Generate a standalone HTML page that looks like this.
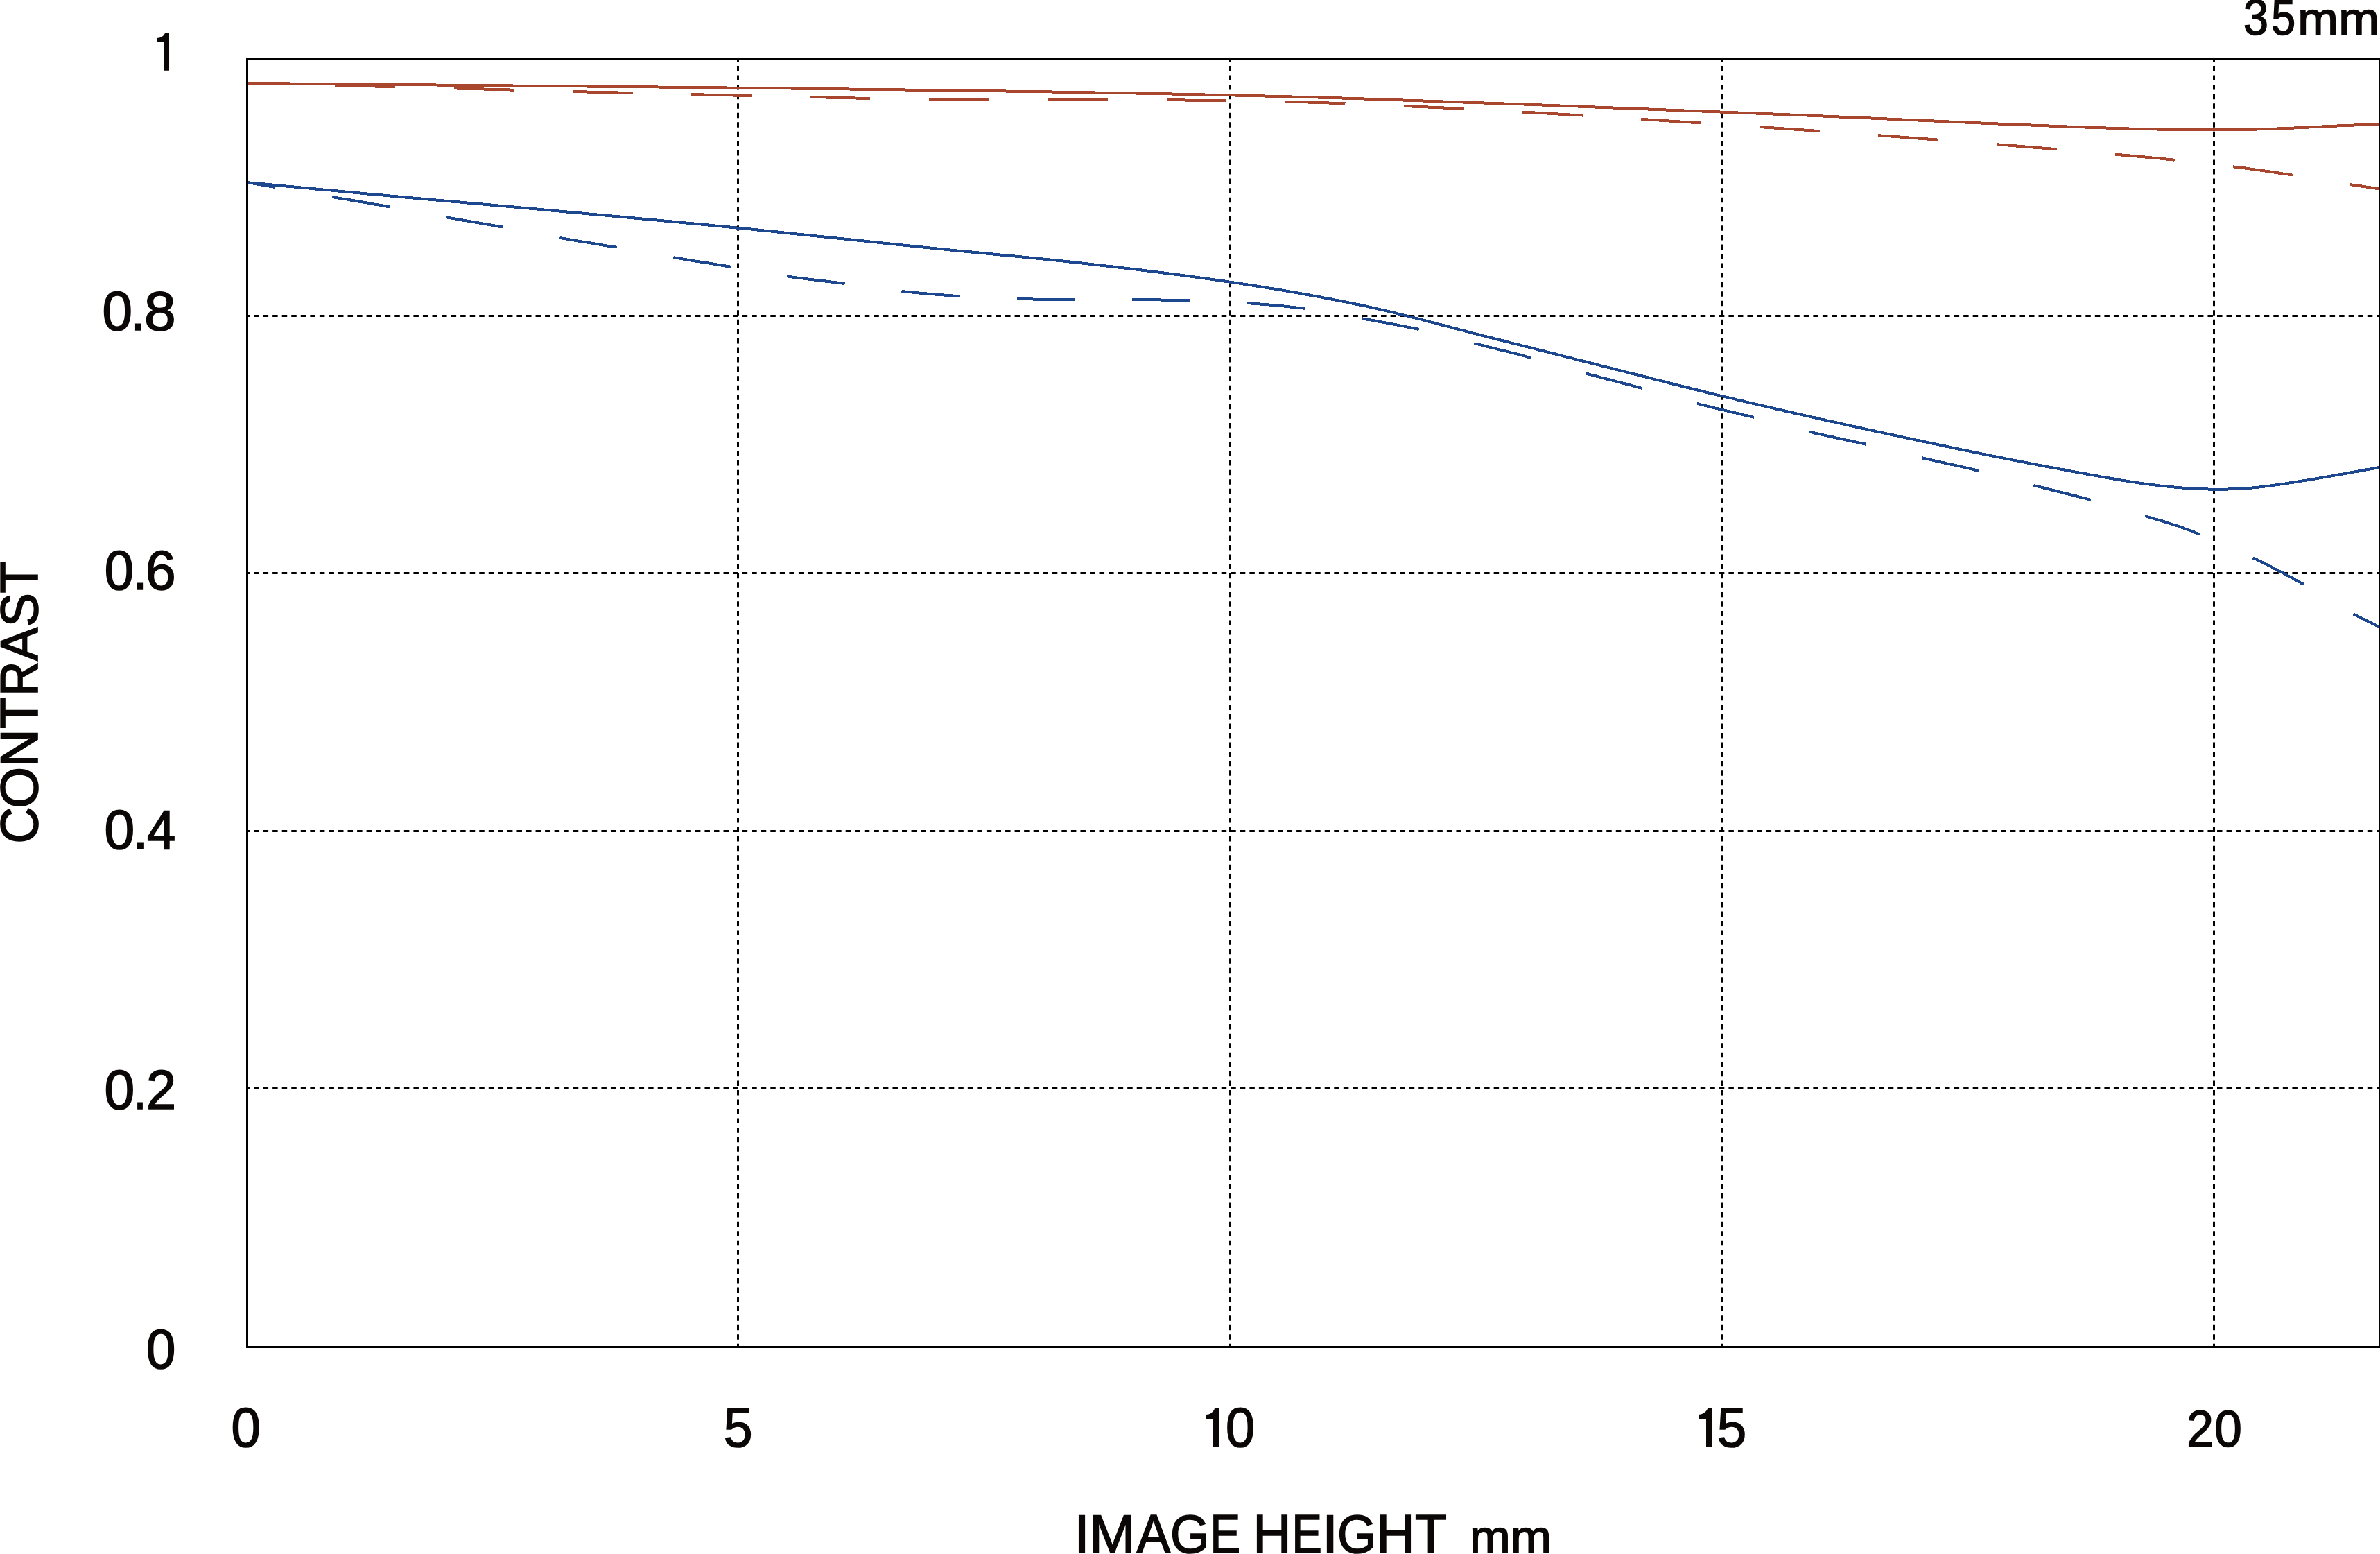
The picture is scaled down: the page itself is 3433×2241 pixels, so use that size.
<!DOCTYPE html><html><head><meta charset="utf-8"><style>html,body{margin:0;padding:0;background:#fff;overflow:hidden}svg{display:block}</style></head><body><svg width="3433" height="2241" viewBox="0 0 3433 2241"><rect x="0" y="0" width="3433" height="2241" fill="#fff"/><defs><clipPath id="pa"><rect x="355" y="83" width="3078" height="1861"/></clipPath></defs><g clip-path="url(#pa)"><path d="M1064.5 86V1941M1774.5 86V1941M2483.5 86V1941M3193.5 86V1941" stroke="#000" stroke-width="3" stroke-dasharray="7.5 6.05" stroke-dashoffset="4.55" fill="none"/><path d="M352.5 455.5H3431M352.5 826.5H3431M352.5 1198.5H3431M352.5 1569.5H3431" stroke="#000" stroke-width="3" stroke-dasharray="7.5 6.05" fill="none"/><g fill="none" stroke-linecap="butt" stroke-linejoin="round" stroke-width="4.0" shape-rendering="crispEdges"><path d="M357.0 120.00L361.0 120.03L365.0 120.06L369.0 120.09L373.0 120.13L377.0 120.16L381.0 120.19L385.0 120.22L389.0 120.26L393.0 120.29L397.0 120.32L401.0 120.36L405.0 120.39L409.0 120.43L413.0 120.46L417.0 120.49L421.0 120.53L425.0 120.57L429.0 120.60L433.0 120.64L437.0 120.68L441.0 120.71L445.0 120.75L449.0 120.79L453.0 120.83L457.0 120.86L461.0 120.90L465.0 120.94L469.0 120.98L473.0 121.02L477.0 121.06L481.0 121.10L485.0 121.14L489.0 121.17L493.0 121.21L497.0 121.25L501.0 121.29L505.0 121.33L509.0 121.37L512.9 121.41L516.9 121.45L520.9 121.48L524.9 121.52L528.9 121.56L532.9 121.60L536.9 121.63L540.9 121.67L544.9 121.71L548.9 121.75L552.9 121.79L556.9 121.82L560.9 121.86L564.9 121.90L568.9 121.94L572.9 121.98L576.9 122.01L580.9 122.05L584.9 122.09L588.9 122.13L592.9 122.16L596.9 122.20L600.9 122.24L604.9 122.28L608.9 122.31L612.9 122.35L616.9 122.39L620.9 122.43L624.9 122.46L628.9 122.50L632.9 122.54L636.9 122.57L640.9 122.61L644.9 122.65L648.9 122.68L652.9 122.72L656.9 122.76L660.9 122.79L664.9 122.83L668.9 122.87L672.9 122.90L676.9 122.94L680.9 122.97L684.9 123.01L688.9 123.05L692.9 123.08L696.9 123.12L700.9 123.16L704.9 123.19L708.9 123.23L712.9 123.26L716.9 123.30L720.9 123.34L724.9 123.37L728.9 123.41L732.9 123.45L736.9 123.48L740.9 123.52L744.9 123.56L748.9 123.59L752.9 123.63L756.9 123.67L760.9 123.71L764.9 123.74L768.9 123.78L772.9 123.82L776.9 123.85L780.9 123.89L784.9 123.93L788.9 123.96L792.9 124.00L796.9 124.04L800.9 124.08L804.9 124.11L808.9 124.15L812.9 124.19L816.9 124.22L820.8 124.26L824.8 124.30L828.8 124.34L832.8 124.38L836.8 124.41L840.8 124.45L844.8 124.49L848.8 124.53L852.8 124.57L856.8 124.60L860.8 124.64L864.8 124.68L868.8 124.72L872.8 124.76L876.8 124.80L880.8 124.83L884.8 124.87L888.8 124.91L892.8 124.95L896.8 124.99L900.8 125.03L904.8 125.07L908.8 125.11L912.8 125.14L916.8 125.18L920.8 125.22L924.8 125.26L928.8 125.30L932.8 125.34L936.8 125.38L940.8 125.42L944.8 125.46L948.8 125.50L952.8 125.54L956.8 125.58L960.8 125.62L964.8 125.66L968.8 125.70L972.8 125.73L976.8 125.77L980.8 125.81L984.8 125.85L988.8 125.89L992.8 125.93L996.8 125.97L1000.8 126.01L1004.8 126.05L1008.8 126.09L1012.8 126.13L1016.8 126.17L1020.8 126.21L1024.8 126.26L1028.8 126.30L1032.8 126.34L1036.8 126.38L1040.8 126.42L1044.8 126.46L1048.8 126.50L1052.8 126.54L1056.8 126.59L1060.8 126.63L1064.8 126.67L1068.8 126.71L1072.8 126.76L1076.8 126.80L1080.8 126.84L1084.8 126.89L1088.8 126.93L1092.8 126.97L1096.8 127.02L1100.8 127.06L1104.8 127.11L1108.8 127.15L1112.8 127.19L1116.8 127.24L1120.8 127.28L1124.8 127.33L1128.7 127.37L1132.7 127.42L1136.7 127.46L1140.7 127.51L1144.7 127.55L1148.7 127.60L1152.7 127.65L1156.7 127.69L1160.7 127.74L1164.7 127.78L1168.7 127.83L1172.7 127.88L1176.7 127.92L1180.7 127.97L1184.7 128.02L1188.7 128.06L1192.7 128.11L1196.7 128.16L1200.7 128.21L1204.7 128.25L1208.7 128.30L1212.7 128.35L1216.7 128.40L1220.7 128.45L1224.7 128.50L1228.7 128.55L1232.7 128.59L1236.7 128.64L1240.7 128.69L1244.7 128.74L1248.7 128.79L1252.7 128.84L1256.7 128.89L1260.7 128.95L1264.7 129.00L1268.7 129.05L1272.7 129.10L1276.7 129.15L1280.7 129.20L1284.7 129.25L1288.7 129.31L1292.7 129.36L1296.7 129.41L1300.7 129.46L1304.7 129.51L1308.7 129.57L1312.7 129.62L1316.7 129.67L1320.7 129.73L1324.7 129.78L1328.7 129.83L1332.7 129.89L1336.7 129.94L1340.7 130.00L1344.7 130.05L1348.7 130.11L1352.7 130.16L1356.7 130.21L1360.7 130.27L1364.7 130.32L1368.7 130.38L1372.7 130.43L1376.7 130.49L1380.7 130.54L1384.7 130.60L1388.7 130.65L1392.7 130.71L1396.7 130.76L1400.7 130.82L1404.7 130.87L1408.7 130.93L1412.7 130.98L1416.7 131.03L1420.7 131.09L1424.7 131.15L1428.7 131.20L1432.7 131.26L1436.6 131.31L1440.6 131.37L1444.6 131.43L1448.6 131.48L1452.6 131.54L1456.6 131.60L1460.6 131.66L1464.6 131.72L1468.6 131.78L1472.6 131.83L1476.6 131.89L1480.6 131.95L1484.6 132.01L1488.6 132.07L1492.6 132.13L1496.6 132.20L1500.6 132.26L1504.6 132.32L1508.6 132.38L1512.6 132.44L1516.6 132.50L1520.6 132.56L1524.6 132.63L1528.6 132.69L1532.6 132.75L1536.6 132.81L1540.6 132.88L1544.6 132.94L1548.6 133.00L1552.6 133.06L1556.6 133.13L1560.6 133.19L1564.6 133.26L1568.6 133.32L1572.6 133.39L1576.6 133.45L1580.6 133.52L1584.6 133.58L1588.6 133.65L1592.6 133.72L1596.6 133.78L1600.6 133.85L1604.6 133.92L1608.6 133.99L1612.6 134.06L1616.6 134.12L1620.6 134.19L1624.6 134.26L1628.6 134.33L1632.6 134.41L1636.6 134.48L1640.6 134.55L1644.6 134.62L1648.6 134.70L1652.6 134.77L1656.6 134.85L1660.6 134.93L1664.6 135.00L1668.6 135.08L1672.6 135.16L1676.6 135.24L1680.6 135.32L1684.6 135.40L1688.6 135.48L1692.6 135.56L1696.6 135.64L1700.6 135.72L1704.6 135.80L1708.6 135.89L1712.6 135.97L1716.6 136.05L1720.6 136.14L1724.6 136.22L1728.6 136.31L1732.6 136.39L1736.6 136.48L1740.6 136.57L1744.5 136.65L1748.5 136.74L1752.5 136.83L1756.5 136.92L1760.5 137.01L1764.5 137.10L1768.5 137.19L1772.5 137.28L1776.5 137.37L1780.5 137.47L1784.5 137.56L1788.5 137.65L1792.5 137.75L1796.5 137.85L1800.5 137.94L1804.5 138.04L1808.5 138.14L1812.5 138.24L1816.5 138.34L1820.5 138.43L1824.5 138.53L1828.5 138.63L1832.5 138.73L1836.5 138.83L1840.5 138.92L1844.5 139.02L1848.5 139.12L1852.5 139.22L1856.5 139.32L1860.5 139.42L1864.5 139.53L1868.5 139.63L1872.5 139.74L1876.5 139.84L1880.5 139.95L1884.5 140.06L1888.5 140.17L1892.5 140.28L1896.5 140.39L1900.5 140.50L1904.5 140.61L1908.5 140.72L1912.5 140.83L1916.5 140.94L1920.5 141.06L1924.5 141.17L1928.5 141.29L1932.5 141.41L1936.5 141.53L1940.5 141.65L1944.5 141.78L1948.5 141.91L1952.5 142.04L1956.5 142.17L1960.5 142.30L1964.5 142.43L1968.5 142.57L1972.5 142.70L1976.5 142.84L1980.5 142.98L1984.5 143.12L1988.5 143.26L1992.5 143.40L1996.5 143.54L2000.5 143.68L2004.5 143.82L2008.5 143.96L2012.5 144.11L2016.5 144.25L2020.5 144.39L2024.5 144.54L2028.5 144.68L2032.5 144.82L2036.5 144.96L2040.5 145.11L2044.5 145.25L2048.4 145.39L2052.4 145.53L2056.4 145.67L2060.4 145.81L2064.4 145.95L2068.4 146.08L2072.4 146.22L2076.4 146.36L2080.4 146.49L2084.4 146.63L2088.4 146.76L2092.4 146.90L2096.4 147.03L2100.4 147.16L2104.4 147.30L2108.4 147.43L2112.4 147.56L2116.4 147.70L2120.4 147.83L2124.4 147.96L2128.4 148.10L2132.4 148.23L2136.4 148.37L2140.4 148.50L2144.4 148.64L2148.4 148.77L2152.4 148.91L2156.4 149.04L2160.4 149.18L2164.4 149.32L2168.4 149.46L2172.4 149.60L2176.4 149.74L2180.4 149.88L2184.4 150.02L2188.4 150.17L2192.4 150.31L2196.4 150.46L2200.4 150.60L2204.4 150.75L2208.4 150.91L2212.4 151.06L2216.4 151.22L2220.4 151.38L2224.4 151.53L2228.4 151.68L2232.4 151.84L2236.4 151.99L2240.4 152.15L2244.4 152.30L2248.4 152.46L2252.4 152.61L2256.4 152.76L2260.4 152.92L2264.4 153.07L2268.4 153.22L2272.4 153.38L2276.4 153.53L2280.4 153.69L2284.4 153.85L2288.4 154.01L2292.4 154.17L2296.4 154.34L2300.4 154.49L2304.4 154.65L2308.4 154.81L2312.4 154.97L2316.4 155.13L2320.4 155.28L2324.4 155.44L2328.4 155.60L2332.4 155.75L2336.4 155.91L2340.4 156.07L2344.4 156.22L2348.4 156.38L2352.4 156.53L2356.3 156.69L2360.3 156.84L2364.3 157.00L2368.3 157.15L2372.3 157.31L2376.3 157.46L2380.3 157.62L2384.3 157.77L2388.3 157.93L2392.3 158.08L2396.3 158.24L2400.3 158.39L2404.3 158.55L2408.3 158.70L2412.3 158.86L2416.3 159.01L2420.3 159.17L2424.3 159.32L2428.3 159.48L2432.3 159.63L2436.3 159.78L2440.3 159.94L2444.3 160.09L2448.3 160.24L2452.3 160.40L2456.3 160.55L2460.3 160.70L2464.3 160.86L2468.3 161.01L2472.3 161.16L2476.3 161.32L2480.3 161.47L2484.3 161.62L2488.3 161.78L2492.3 161.93L2496.3 162.08L2500.3 162.24L2504.3 162.39L2508.3 162.55L2512.3 162.70L2516.3 162.86L2520.3 163.02L2524.3 163.17L2528.3 163.33L2532.3 163.49L2536.3 163.65L2540.3 163.81L2544.3 163.97L2548.3 164.13L2552.3 164.29L2556.3 164.45L2560.3 164.61L2564.3 164.78L2568.3 164.95L2572.3 165.11L2576.3 165.28L2580.3 165.45L2584.3 165.62L2588.3 165.78L2592.3 165.95L2596.3 166.12L2600.3 166.29L2604.3 166.45L2608.3 166.62L2612.3 166.79L2616.3 166.95L2620.3 167.12L2624.3 167.28L2628.3 167.45L2632.3 167.62L2636.3 167.79L2640.3 167.96L2644.3 168.13L2648.3 168.31L2652.3 168.48L2656.3 168.65L2660.3 168.82L2664.2 169.00L2668.2 169.17L2672.2 169.35L2676.2 169.52L2680.2 169.70L2684.2 169.87L2688.2 170.05L2692.2 170.22L2696.2 170.40L2700.2 170.57L2704.2 170.75L2708.2 170.92L2712.2 171.10L2716.2 171.27L2720.2 171.45L2724.2 171.62L2728.2 171.80L2732.2 171.97L2736.2 172.15L2740.2 172.32L2744.2 172.50L2748.2 172.68L2752.2 172.85L2756.2 173.03L2760.2 173.20L2764.2 173.38L2768.2 173.56L2772.2 173.74L2776.2 173.91L2780.2 174.09L2784.2 174.27L2788.2 174.45L2792.2 174.63L2796.2 174.81L2800.2 174.99L2804.2 175.17L2808.2 175.35L2812.2 175.53L2816.2 175.70L2820.2 175.88L2824.2 176.05L2828.2 176.23L2832.2 176.40L2836.2 176.57L2840.2 176.74L2844.2 176.91L2848.2 177.08L2852.2 177.25L2856.2 177.41L2860.2 177.58L2864.2 177.76L2868.2 177.93L2872.2 178.11L2876.2 178.28L2880.2 178.45L2884.2 178.62L2888.2 178.78L2892.2 178.95L2896.2 179.11L2900.2 179.27L2904.2 179.44L2908.2 179.60L2912.2 179.76L2916.2 179.93L2920.2 180.09L2924.2 180.25L2928.2 180.42L2932.2 180.59L2936.2 180.75L2940.2 180.92L2944.2 181.08L2948.2 181.24L2952.2 181.40L2956.2 181.56L2960.2 181.71L2964.2 181.86L2968.2 182.01L2972.1 182.16L2976.1 182.31L2980.1 182.46L2984.1 182.61L2988.1 182.76L2992.1 182.90L2996.1 183.05L3000.1 183.20L3004.1 183.35L3008.1 183.49L3012.1 183.63L3016.1 183.77L3020.1 183.91L3024.1 184.05L3028.1 184.19L3032.1 184.32L3036.1 184.46L3040.1 184.58L3044.1 184.71L3048.1 184.84L3052.1 184.96L3056.1 185.08L3060.1 185.20L3064.1 185.32L3068.1 185.43L3072.1 185.54L3076.1 185.66L3080.1 185.77L3084.1 185.88L3088.1 185.99L3092.1 186.10L3096.1 186.20L3100.1 186.30L3104.1 186.38L3108.1 186.46L3112.1 186.53L3116.1 186.59L3120.1 186.65L3124.1 186.71L3128.1 186.77L3132.1 186.83L3136.1 186.89L3140.1 186.94L3144.1 187.00L3148.1 187.04L3152.1 187.09L3156.1 187.13L3160.1 187.16L3164.1 187.19L3168.1 187.22L3172.1 187.24L3176.1 187.25L3180.1 187.25L3184.1 187.25L3188.1 187.24L3192.1 187.23L3196.1 187.21L3200.1 187.18L3204.1 187.16L3208.1 187.12L3212.1 187.09L3216.1 187.05L3220.1 187.01L3224.1 186.96L3228.1 186.91L3232.1 186.86L3236.1 186.80L3240.1 186.74L3244.1 186.68L3248.1 186.62L3252.1 186.56L3256.1 186.49L3260.1 186.41L3264.1 186.29L3268.1 186.16L3272.1 186.02L3276.1 185.87L3280.0 185.71L3284.0 185.55L3288.0 185.40L3292.0 185.25L3296.0 185.08L3300.0 184.91L3304.0 184.74L3308.0 184.57L3312.0 184.38L3316.0 184.20L3320.0 184.00L3324.0 183.81L3328.0 183.61L3332.0 183.41L3336.0 183.22L3340.0 183.02L3344.0 182.82L3348.0 182.62L3352.0 182.42L3356.0 182.22L3360.0 182.03L3364.0 181.83L3368.0 181.64L3372.0 181.46L3376.0 181.29L3380.0 181.12L3384.0 180.96L3388.0 180.80L3392.0 180.64L3396.0 180.49L3400.0 180.35L3404.0 180.21L3408.0 180.07L3412.0 179.94L3416.0 179.81L3420.0 179.68L3424.0 179.55L3428.0 179.41L3432.0 179.28" stroke="#A8472E"/><path d="M357.0 120.00L360.0 120.05L363.0 120.10L365.9 120.16L368.9 120.22L371.9 120.29L374.9 120.35L377.9 120.42L380.8 120.49L383.8 120.57L386.8 120.65L389.8 120.74L392.7 120.83L395.7 120.92L398.7 121.00M483.2 123.07L486.2 123.14L489.2 123.21L492.1 123.28L495.1 123.36L498.1 123.43L501.1 123.50L504.1 123.58L507.1 123.65L510.0 123.72L513.0 123.80L516.0 123.87L519.0 123.95L522.0 124.02L525.0 124.10L527.9 124.17L530.9 124.25L533.9 124.32L536.9 124.40L539.9 124.47L542.9 124.55L545.8 124.62L548.8 124.70L551.8 124.77L554.8 124.85L557.8 124.93L560.8 125.00L563.7 125.08L566.7 125.15L569.7 125.23M655.1 127.43L658.1 127.50L661.0 127.58L664.0 127.65L666.9 127.73L669.9 127.80L672.9 127.88L675.8 127.95L678.8 128.03L681.7 128.10L684.7 128.17L687.6 128.25L690.6 128.32L693.6 128.40L696.5 128.47L699.5 128.55L702.4 128.63L705.4 128.70L708.4 128.78L711.3 128.85L714.3 128.93L717.2 129.00L720.2 129.08L723.1 129.16L726.1 129.23L729.1 129.31L732.0 129.39L735.0 129.47L737.9 129.54L740.9 129.62M826.3 132.00L829.3 132.07L832.3 132.15L835.2 132.22L838.2 132.29L841.2 132.36L844.2 132.44L847.1 132.51L850.1 132.57L853.1 132.64L856.1 132.71L859.0 132.78L862.0 132.85L865.0 132.92L868.0 132.98L870.9 133.05L873.9 133.12L876.9 133.18L879.9 133.25L882.8 133.32L885.8 133.38L888.8 133.45L891.8 133.52L894.7 133.59L897.7 133.65L900.7 133.72L903.7 133.79L906.6 133.86L909.6 133.93L912.6 134.00M997.2 136.06L1000.2 136.14L1003.2 136.21L1006.1 136.28L1009.1 136.35L1012.1 136.43L1015.1 136.50L1018.1 136.57L1021.1 136.64L1024.0 136.71L1027.0 136.78L1030.0 136.86L1033.0 136.93L1036.0 137.00L1039.0 137.07L1041.9 137.14L1044.9 137.21L1047.9 137.28L1050.9 137.35L1053.9 137.42L1056.9 137.49L1059.8 137.56L1062.8 137.63L1065.8 137.70L1068.8 137.76L1071.8 137.83L1074.8 137.90L1077.7 137.97L1080.7 138.04L1083.7 138.10M1169.1 140.00L1172.1 140.07L1175.0 140.13L1178.0 140.20L1180.9 140.27L1183.9 140.34L1186.8 140.41L1189.8 140.48L1192.7 140.55L1195.7 140.62L1198.7 140.69L1201.6 140.76L1204.6 140.83L1207.5 140.90L1210.5 140.97L1213.4 141.04L1216.4 141.11L1219.3 141.18L1222.3 141.24L1225.2 141.31L1228.2 141.37L1231.2 141.44L1234.1 141.50L1237.1 141.56L1240.0 141.62L1243.0 141.68L1245.9 141.74L1248.9 141.79L1251.8 141.85L1254.8 141.90M1340.0 143.24L1343.0 143.27L1346.0 143.30L1349.0 143.33L1351.9 143.36L1354.9 143.39L1357.9 143.41L1360.9 143.44L1363.9 143.46L1366.9 143.48L1369.9 143.49L1372.8 143.51L1375.8 143.52L1378.8 143.53L1381.8 143.55L1384.8 143.56L1387.8 143.57L1390.8 143.58L1393.8 143.60L1396.7 143.61L1399.7 143.62L1402.7 143.63L1405.7 143.64L1408.7 143.65L1411.7 143.66L1414.7 143.67L1417.6 143.68L1420.6 143.69L1423.6 143.69L1426.6 143.70M1511.2 143.89L1514.2 143.90L1517.2 143.90L1520.2 143.91L1523.2 143.92L1526.1 143.92L1529.1 143.93L1532.1 143.94L1535.1 143.95L1538.1 143.95L1541.1 143.96L1544.1 143.97L1547.1 143.98L1550.1 143.99L1553.1 143.99L1556.0 144.00L1559.0 144.01L1562.0 144.02L1565.0 144.03L1568.0 144.04L1571.0 144.05L1574.0 144.05L1577.0 144.06L1580.0 144.07L1583.0 144.08L1585.9 144.09L1588.9 144.09L1591.9 144.10L1594.9 144.11L1597.9 144.12M1683.2 144.38L1686.1 144.39L1689.1 144.41L1692.0 144.42L1695.0 144.43L1697.9 144.45L1700.9 144.46L1703.8 144.48L1706.8 144.49L1709.7 144.51L1712.6 144.52L1715.6 144.54L1718.5 144.56L1721.5 144.59L1724.4 144.61L1727.4 144.64L1730.3 144.66L1733.3 144.69L1736.2 144.72L1739.2 144.75L1742.1 144.78L1745.0 144.81L1748.0 144.85L1750.9 144.88L1753.9 144.92L1756.8 144.95L1759.8 144.99L1762.7 145.02L1765.7 145.06L1768.6 145.10M1854.3 146.72L1857.3 146.79L1860.2 146.86L1863.2 146.94L1866.2 147.01L1869.2 147.08L1872.1 147.16L1875.1 147.23L1878.1 147.31L1881.1 147.39L1884.0 147.46L1887.0 147.54L1890.0 147.63L1892.9 147.71L1895.9 147.80L1898.9 147.90L1901.9 148.00L1904.8 148.10L1907.8 148.20L1910.8 148.30L1913.7 148.41L1916.7 148.51L1919.7 148.62L1922.7 148.73L1925.6 148.83L1928.6 148.95L1931.6 149.06L1934.6 149.17L1937.5 149.29L1940.5 149.40M2025.2 153.00L2028.2 153.13L2031.2 153.26L2034.2 153.39L2037.2 153.52L2040.2 153.64L2043.2 153.77L2046.2 153.90L2049.1 154.03L2052.1 154.16L2055.1 154.29L2058.1 154.42L2061.1 154.55L2064.1 154.68L2067.1 154.82L2070.1 154.95L2073.1 155.08L2076.1 155.22L2079.1 155.35L2082.1 155.49L2085.1 155.62L2088.1 155.76L2091.0 155.90L2094.0 156.04L2097.0 156.18L2100.0 156.32L2103.0 156.46L2106.0 156.61L2109.0 156.75L2112.0 156.90M2196.3 161.53L2199.3 161.70L2202.3 161.87L2205.3 162.04L2208.2 162.21L2211.2 162.37L2214.2 162.54L2217.2 162.70L2220.2 162.87L2223.2 163.03L2226.2 163.20L2229.1 163.37L2232.1 163.54L2235.1 163.72L2238.1 163.90L2241.1 164.08L2244.1 164.26L2247.1 164.44L2250.1 164.62L2253.0 164.81L2256.0 164.99L2259.0 165.17L2262.0 165.36L2265.0 165.53L2268.0 165.71L2271.0 165.88L2273.9 166.05L2276.9 166.23L2279.9 166.40L2282.9 166.58M2367.4 171.92L2370.4 172.11L2373.3 172.29L2376.3 172.48L2379.3 172.67L2382.2 172.85L2385.2 173.03L2388.2 173.22L2391.2 173.41L2394.1 173.60L2397.1 173.80L2400.1 174.00L2403.0 174.20L2406.0 174.40L2409.0 174.59L2411.9 174.78L2414.9 174.97L2417.9 175.15L2420.8 175.34L2423.8 175.53L2426.8 175.72L2429.7 175.91L2432.7 176.11L2435.7 176.31L2438.7 176.50L2441.6 176.70L2444.6 176.90L2447.6 177.09L2450.5 177.29L2453.5 177.49M2538.4 183.14L2541.4 183.34L2544.4 183.54L2547.3 183.74L2550.3 183.94L2553.3 184.15L2556.3 184.35L2559.3 184.55L2562.3 184.76L2565.2 184.97L2568.2 185.19L2571.2 185.40L2574.2 185.60L2577.2 185.80L2580.2 186.00L2583.1 186.20L2586.1 186.41L2589.1 186.61L2592.1 186.82L2595.1 187.03L2598.1 187.25L2601.0 187.45L2604.0 187.66L2607.0 187.86L2610.0 188.06L2613.0 188.26L2616.0 188.46L2618.9 188.67L2621.9 188.88L2624.9 189.09M2709.0 195.20L2712.0 195.42L2715.0 195.64L2717.9 195.86L2720.9 196.08L2723.9 196.30L2726.9 196.52L2729.9 196.74L2732.9 196.96L2735.8 197.18L2738.8 197.41L2741.8 197.63L2744.8 197.85L2747.8 198.07L2750.8 198.30L2753.7 198.52L2756.7 198.74L2759.7 198.96L2762.7 199.19L2765.7 199.41L2768.7 199.63L2771.6 199.85L2774.6 200.08L2777.6 200.30L2780.6 200.52L2783.6 200.74L2786.6 200.96L2789.5 201.19L2792.5 201.41L2795.5 201.64M2880.4 208.25L2883.4 208.49L2886.4 208.73L2889.3 208.97L2892.3 209.20L2895.3 209.44L2898.3 209.68L2901.3 209.92L2904.3 210.16L2907.2 210.40L2910.2 210.64L2913.2 210.88L2916.2 211.12L2919.2 211.36L2922.2 211.60L2925.1 211.85L2928.1 212.09L2931.1 212.33L2934.1 212.58L2937.1 212.82L2940.1 213.07L2943.0 213.31L2946.0 213.56L2949.0 213.80L2952.0 214.05L2955.0 214.30L2958.0 214.55L2960.9 214.80L2963.9 215.05L2966.9 215.30M3051.3 222.68L3054.2 222.95L3057.2 223.21L3060.1 223.47L3063.1 223.73L3066.0 223.99L3069.0 224.25L3071.9 224.52L3074.9 224.79L3077.8 225.06L3080.7 225.33L3083.7 225.60L3086.6 225.86L3089.6 226.12L3092.5 226.39L3095.5 226.67L3098.4 226.98L3101.4 227.28L3104.3 227.57L3107.3 227.83L3110.2 228.09L3113.1 228.35L3116.1 228.63L3119.0 228.93L3122.0 229.23L3124.9 229.53L3127.9 229.82L3130.8 230.11L3133.8 230.40L3136.7 230.71M3221.2 240.30L3224.1 240.67L3227.1 241.04L3230.0 241.40L3233.0 241.78L3235.9 242.17L3238.9 242.56L3241.8 242.97L3244.8 243.37L3247.7 243.78L3250.7 244.20L3253.6 244.63L3256.6 245.05L3259.5 245.48L3262.5 245.90L3265.4 246.32L3268.4 246.74L3271.3 247.16L3274.3 247.60L3277.2 248.05L3280.2 248.50L3283.1 248.96L3286.1 249.42L3289.0 249.87L3292.0 250.32L3294.9 250.76L3297.9 251.21L3300.8 251.67L3303.8 252.13L3306.7 252.60M3390.2 266.12L3393.2 266.57L3396.2 267.01L3399.2 267.44L3402.1 267.86L3405.1 268.29L3408.1 268.76L3411.1 269.25L3414.1 269.71L3417.1 270.13L3420.1 270.55L3423.0 270.99L3426.0 271.42L3429.0 271.84L3432.0 272.26" stroke="#A8472E"/><path d="M357.0 263.10L361.0 263.48L365.0 263.87L369.0 264.26L373.0 264.64L377.0 265.03L381.0 265.41L385.0 265.80L389.0 266.18L393.0 266.56L397.0 266.95L401.0 267.33L405.0 267.71L409.0 268.10L413.0 268.48L417.0 268.86L421.0 269.24L425.0 269.62L429.0 270.00L433.0 270.38L437.0 270.76L441.0 271.14L445.0 271.52L449.0 271.90L453.0 272.28L457.0 272.66L461.0 273.03L465.0 273.41L469.0 273.79L473.0 274.16L477.0 274.54L481.0 274.92L485.0 275.29L489.0 275.67L493.0 276.04L497.0 276.42L501.0 276.79L505.0 277.16L509.0 277.54L512.9 277.91L516.9 278.28L520.9 278.65L524.9 279.03L528.9 279.40L532.9 279.77L536.9 280.14L540.9 280.51L544.9 280.88L548.9 281.25L552.9 281.62L556.9 281.99L560.9 282.35L564.9 282.72L568.9 283.09L572.9 283.45L576.9 283.82L580.9 284.18L584.9 284.54L588.9 284.91L592.9 285.27L596.9 285.63L600.9 285.99L604.9 286.35L608.9 286.71L612.9 287.07L616.9 287.43L620.9 287.79L624.9 288.14L628.9 288.50L632.9 288.86L636.9 289.22L640.9 289.57L644.9 289.93L648.9 290.28L652.9 290.64L656.9 291.00L660.9 291.35L664.9 291.71L668.9 292.07L672.9 292.42L676.9 292.78L680.9 293.13L684.9 293.49L688.9 293.85L692.9 294.20L696.9 294.56L700.9 294.92L704.9 295.28L708.9 295.64L712.9 296.00L716.9 296.35L720.9 296.71L724.9 297.07L728.9 297.44L732.9 297.80L736.9 298.16L740.9 298.52L744.9 298.88L748.9 299.25L752.9 299.61L756.9 299.98L760.9 300.35L764.9 300.71L768.9 301.08L772.9 301.44L776.9 301.81L780.9 302.17L784.9 302.54L788.9 302.90L792.9 303.27L796.9 303.63L800.9 304.00L804.9 304.36L808.9 304.73L812.9 305.09L816.9 305.46L820.8 305.82L824.8 306.19L828.8 306.55L832.8 306.92L836.8 307.28L840.8 307.65L844.8 308.01L848.8 308.38L852.8 308.75L856.8 309.11L860.8 309.48L864.8 309.84L868.8 310.21L872.8 310.58L876.8 310.95L880.8 311.31L884.8 311.68L888.8 312.05L892.8 312.42L896.8 312.78L900.8 313.15L904.8 313.52L908.8 313.89L912.8 314.26L916.8 314.63L920.8 315.00L924.8 315.37L928.8 315.75L932.8 316.12L936.8 316.49L940.8 316.86L944.8 317.24L948.8 317.61L952.8 317.98L956.8 318.36L960.8 318.73L964.8 319.11L968.8 319.49L972.8 319.86L976.8 320.24L980.8 320.62L984.8 321.00L988.8 321.38L992.8 321.76L996.8 322.14L1000.8 322.52L1004.8 322.90L1008.8 323.29L1012.8 323.67L1016.8 324.05L1020.8 324.44L1024.8 324.82L1028.8 325.21L1032.8 325.60L1036.8 325.99L1040.8 326.37L1044.8 326.76L1048.8 327.16L1052.8 327.55L1056.8 327.94L1060.8 328.33L1064.8 328.73L1068.8 329.12L1072.8 329.52L1076.8 329.92L1080.8 330.32L1084.8 330.73L1088.8 331.14L1092.8 331.54L1096.8 331.95L1100.8 332.36L1104.8 332.78L1108.8 333.19L1112.8 333.60L1116.8 334.02L1120.8 334.43L1124.8 334.85L1128.7 335.27L1132.7 335.68L1136.7 336.10L1140.7 336.52L1144.7 336.93L1148.7 337.35L1152.7 337.76L1156.7 338.18L1160.7 338.59L1164.7 339.01L1168.7 339.42L1172.7 339.84L1176.7 340.25L1180.7 340.67L1184.7 341.09L1188.7 341.51L1192.7 341.93L1196.7 342.35L1200.7 342.76L1204.7 343.18L1208.7 343.60L1212.7 344.02L1216.7 344.45L1220.7 344.87L1224.7 345.29L1228.7 345.71L1232.7 346.13L1236.7 346.55L1240.7 346.97L1244.7 347.39L1248.7 347.81L1252.7 348.24L1256.7 348.66L1260.7 349.08L1264.7 349.50L1268.7 349.92L1272.7 350.34L1276.7 350.76L1280.7 351.18L1284.7 351.60L1288.7 352.02L1292.7 352.44L1296.7 352.86L1300.7 353.28L1304.7 353.69L1308.7 354.11L1312.7 354.53L1316.7 354.94L1320.7 355.36L1324.7 355.77L1328.7 356.19L1332.7 356.60L1336.7 357.02L1340.7 357.43L1344.7 357.84L1348.7 358.25L1352.7 358.66L1356.7 359.07L1360.7 359.48L1364.7 359.88L1368.7 360.28L1372.7 360.68L1376.7 361.08L1380.7 361.48L1384.7 361.87L1388.7 362.27L1392.7 362.66L1396.7 363.05L1400.7 363.44L1404.7 363.82L1408.7 364.21L1412.7 364.60L1416.7 364.98L1420.7 365.37L1424.7 365.75L1428.7 366.14L1432.7 366.52L1436.6 366.90L1440.6 367.29L1444.6 367.67L1448.6 368.06L1452.6 368.44L1456.6 368.83L1460.6 369.21L1464.6 369.60L1468.6 369.99L1472.6 370.38L1476.6 370.77L1480.6 371.16L1484.6 371.56L1488.6 371.95L1492.6 372.35L1496.6 372.75L1500.6 373.15L1504.6 373.56L1508.6 373.96L1512.6 374.37L1516.6 374.78L1520.6 375.20L1524.6 375.61L1528.6 376.03L1532.6 376.46L1536.6 376.88L1540.6 377.31L1544.6 377.75L1548.6 378.18L1552.6 378.62L1556.6 379.07L1560.6 379.51L1564.6 379.96L1568.6 380.41L1572.6 380.86L1576.6 381.32L1580.6 381.77L1584.6 382.23L1588.6 382.68L1592.6 383.14L1596.6 383.60L1600.6 384.07L1604.6 384.53L1608.6 385.00L1612.6 385.47L1616.6 385.94L1620.6 386.41L1624.6 386.88L1628.6 387.36L1632.6 387.84L1636.6 388.32L1640.6 388.80L1644.6 389.29L1648.6 389.78L1652.6 390.27L1656.6 390.76L1660.6 391.26L1664.6 391.76L1668.6 392.26L1672.6 392.76L1676.6 393.27L1680.6 393.78L1684.6 394.29L1688.6 394.80L1692.6 395.32L1696.6 395.84L1700.6 396.37L1704.6 396.89L1708.6 397.42L1712.6 397.96L1716.6 398.50L1720.6 399.04L1724.6 399.58L1728.6 400.13L1732.6 400.68L1736.6 401.23L1740.6 401.79L1744.5 402.35L1748.5 402.91L1752.5 403.48L1756.5 404.06L1760.5 404.63L1764.5 405.21L1768.5 405.80L1772.5 406.38L1776.5 406.98L1780.5 407.57L1784.5 408.17L1788.5 408.78L1792.5 409.39L1796.5 410.01L1800.5 410.63L1804.5 411.25L1808.5 411.88L1812.5 412.51L1816.5 413.15L1820.5 413.80L1824.5 414.45L1828.5 415.10L1832.5 415.76L1836.5 416.42L1840.5 417.09L1844.5 417.76L1848.5 418.44L1852.5 419.12L1856.5 419.81L1860.5 420.51L1864.5 421.20L1868.5 421.91L1872.5 422.61L1876.5 423.33L1880.5 424.05L1884.5 424.77L1888.5 425.50L1892.5 426.23L1896.5 426.97L1900.5 427.72L1904.5 428.47L1908.5 429.22L1912.5 429.98L1916.5 430.75L1920.5 431.52L1924.5 432.29L1928.5 433.08L1932.5 433.86L1936.5 434.65L1940.5 435.45L1944.5 436.26L1948.5 437.06L1952.5 437.88L1956.5 438.70L1960.5 439.53L1964.5 440.37L1968.5 441.23L1972.5 442.10L1976.5 442.98L1980.5 443.87L1984.5 444.77L1988.5 445.69L1992.5 446.61L1996.5 447.54L2000.5 448.49L2004.5 449.44L2008.5 450.40L2012.5 451.37L2016.5 452.35L2020.5 453.33L2024.5 454.33L2028.5 455.32L2032.5 456.33L2036.5 457.34L2040.5 458.36L2044.5 459.38L2048.4 460.41L2052.4 461.44L2056.4 462.47L2060.4 463.51L2064.4 464.56L2068.4 465.60L2072.4 466.65L2076.4 467.70L2080.4 468.75L2084.4 469.80L2088.4 470.85L2092.4 471.91L2096.4 472.96L2100.4 474.01L2104.4 475.07L2108.4 476.12L2112.4 477.17L2116.4 478.22L2120.4 479.26L2124.4 480.31L2128.4 481.35L2132.4 482.38L2136.4 483.41L2140.4 484.44L2144.4 485.47L2148.4 486.48L2152.4 487.50L2156.4 488.50L2160.4 489.51L2164.4 490.52L2168.4 491.52L2172.4 492.53L2176.4 493.54L2180.4 494.55L2184.4 495.56L2188.4 496.57L2192.4 497.58L2196.4 498.59L2200.4 499.60L2204.4 500.62L2208.4 501.63L2212.4 502.65L2216.4 503.66L2220.4 504.68L2224.4 505.69L2228.4 506.71L2232.4 507.72L2236.4 508.74L2240.4 509.76L2244.4 510.77L2248.4 511.79L2252.4 512.81L2256.4 513.82L2260.4 514.84L2264.4 515.86L2268.4 516.88L2272.4 517.89L2276.4 518.91L2280.4 519.93L2284.4 520.95L2288.4 521.96L2292.4 522.98L2296.4 524.00L2300.4 525.01L2304.4 526.03L2308.4 527.04L2312.4 528.06L2316.4 529.07L2320.4 530.09L2324.4 531.10L2328.4 532.11L2332.4 533.13L2336.4 534.14L2340.4 535.15L2344.4 536.16L2348.4 537.17L2352.4 538.18L2356.3 539.19L2360.3 540.20L2364.3 541.21L2368.3 542.22L2372.3 543.24L2376.3 544.25L2380.3 545.27L2384.3 546.29L2388.3 547.31L2392.3 548.33L2396.3 549.35L2400.3 550.36L2404.3 551.38L2408.3 552.40L2412.3 553.42L2416.3 554.43L2420.3 555.45L2424.3 556.46L2428.3 557.47L2432.3 558.48L2436.3 559.49L2440.3 560.49L2444.3 561.49L2448.3 562.49L2452.3 563.48L2456.3 564.48L2460.3 565.46L2464.3 566.45L2468.3 567.42L2472.3 568.40L2476.3 569.37L2480.3 570.33L2484.3 571.29L2488.3 572.25L2492.3 573.21L2496.3 574.16L2500.3 575.11L2504.3 576.06L2508.3 577.01L2512.3 577.96L2516.3 578.90L2520.3 579.85L2524.3 580.79L2528.3 581.73L2532.3 582.67L2536.3 583.61L2540.3 584.54L2544.3 585.48L2548.3 586.41L2552.3 587.34L2556.3 588.27L2560.3 589.20L2564.3 590.13L2568.3 591.05L2572.3 591.98L2576.3 592.90L2580.3 593.82L2584.3 594.74L2588.3 595.66L2592.3 596.57L2596.3 597.49L2600.3 598.40L2604.3 599.31L2608.3 600.22L2612.3 601.13L2616.3 602.04L2620.3 602.94L2624.3 603.85L2628.3 604.75L2632.3 605.65L2636.3 606.55L2640.3 607.45L2644.3 608.35L2648.3 609.24L2652.3 610.13L2656.3 611.03L2660.3 611.92L2664.2 612.81L2668.2 613.69L2672.2 614.58L2676.2 615.46L2680.2 616.35L2684.2 617.23L2688.2 618.11L2692.2 618.99L2696.2 619.86L2700.2 620.74L2704.2 621.61L2708.2 622.49L2712.2 623.36L2716.2 624.23L2720.2 625.10L2724.2 625.96L2728.2 626.83L2732.2 627.69L2736.2 628.56L2740.2 629.42L2744.2 630.28L2748.2 631.13L2752.2 631.99L2756.2 632.85L2760.2 633.70L2764.2 634.56L2768.2 635.41L2772.2 636.26L2776.2 637.11L2780.2 637.97L2784.2 638.82L2788.2 639.67L2792.2 640.51L2796.2 641.36L2800.2 642.21L2804.2 643.05L2808.2 643.90L2812.2 644.74L2816.2 645.58L2820.2 646.42L2824.2 647.26L2828.2 648.10L2832.2 648.93L2836.2 649.76L2840.2 650.59L2844.2 651.42L2848.2 652.25L2852.2 653.07L2856.2 653.90L2860.2 654.72L2864.2 655.54L2868.2 656.35L2872.2 657.16L2876.2 657.97L2880.2 658.78L2884.2 659.59L2888.2 660.39L2892.2 661.19L2896.2 661.99L2900.2 662.78L2904.2 663.57L2908.2 664.36L2912.2 665.14L2916.2 665.92L2920.2 666.70L2924.2 667.47L2928.2 668.24L2932.2 669.01L2936.2 669.77L2940.2 670.53L2944.2 671.29L2948.2 672.04L2952.2 672.79L2956.2 673.53L2960.2 674.27L2964.2 675.02L2968.2 675.77L2972.1 676.52L2976.1 677.27L2980.1 678.02L2984.1 678.77L2988.1 679.53L2992.1 680.28L2996.1 681.03L3000.1 681.78L3004.1 682.52L3008.1 683.27L3012.1 684.01L3016.1 684.75L3020.1 685.48L3024.1 686.21L3028.1 686.93L3032.1 687.65L3036.1 688.36L3040.1 689.07L3044.1 689.77L3048.1 690.46L3052.1 691.14L3056.1 691.82L3060.1 692.48L3064.1 693.14L3068.1 693.78L3072.1 694.42L3076.1 695.04L3080.1 695.65L3084.1 696.25L3088.1 696.84L3092.1 697.41L3096.1 697.97L3100.1 698.52L3104.1 699.05L3108.1 699.56L3112.1 700.05L3116.1 700.51L3120.1 700.94L3124.1 701.35L3128.1 701.75L3132.1 702.14L3136.1 702.52L3140.1 702.89L3144.1 703.23L3148.1 703.55L3152.1 703.84L3156.1 704.12L3160.1 704.37L3164.1 704.57L3168.1 704.77L3172.1 704.96L3176.1 705.15L3180.1 705.32L3184.1 705.48L3188.1 705.61L3192.1 705.71L3196.1 705.78L3200.1 705.80L3204.1 705.77L3208.1 705.69L3212.1 705.57L3216.1 705.42L3220.1 705.23L3224.1 705.03L3228.1 704.82L3232.1 704.60L3236.1 704.38L3240.1 704.12L3244.1 703.82L3248.1 703.49L3252.1 703.12L3256.1 702.74L3260.1 702.32L3264.1 701.84L3268.1 701.31L3272.1 700.76L3276.1 700.23L3280.0 699.71L3284.0 699.18L3288.0 698.64L3292.0 698.06L3296.0 697.47L3300.0 696.86L3304.0 696.24L3308.0 695.60L3312.0 694.96L3316.0 694.31L3320.0 693.65L3324.0 692.99L3328.0 692.33L3332.0 691.66L3336.0 690.99L3340.0 690.32L3344.0 689.64L3348.0 688.95L3352.0 688.26L3356.0 687.56L3360.0 686.86L3364.0 686.16L3368.0 685.45L3372.0 684.74L3376.0 684.04L3380.0 683.33L3384.0 682.62L3388.0 681.91L3392.0 681.20L3396.0 680.49L3400.0 679.78L3404.0 679.06L3408.0 678.34L3412.0 677.62L3416.0 676.90L3420.0 676.18L3424.0 675.45L3428.0 674.73L3432.0 674.00" stroke="#1D4890"/><path d="M356.0 263.00L359.0 263.51L361.9 264.01L364.9 264.52L367.9 265.03L370.8 265.53L373.8 266.04L376.8 266.54L379.7 267.05L382.7 267.56L385.6 268.06L388.6 268.57L391.6 269.07L394.5 269.58L397.5 270.09M479.2 284.00L482.2 284.51L485.1 285.01L488.1 285.52L491.0 286.02L494.0 286.53L496.9 287.03L499.9 287.54L502.8 288.05L505.8 288.55L508.7 289.06L511.7 289.56L514.6 290.07L517.6 290.58L520.5 291.08L523.5 291.59L526.5 292.10L529.4 292.61L532.4 293.12L535.3 293.63L538.3 294.15L541.2 294.66L544.2 295.18L547.1 295.69L550.1 296.21L553.0 296.73L556.0 297.25L558.9 297.78L561.9 298.30M643.1 313.20L646.1 313.73L649.0 314.25L652.0 314.78L654.9 315.30L657.9 315.82L660.8 316.33L663.8 316.85L666.7 317.36L669.7 317.87L672.6 318.39L675.6 318.90L678.5 319.41L681.5 319.92L684.5 320.43L687.4 320.94L690.4 321.45L693.3 321.96L696.3 322.48L699.2 322.99L702.2 323.50L705.1 324.02L708.1 324.54L711.0 325.06L714.0 325.58L716.9 326.11L719.9 326.64L722.8 327.17L725.8 327.70M807.3 343.00L810.2 343.52L813.2 344.03L816.1 344.54L819.1 345.05L822.0 345.55L824.9 346.05L827.9 346.54L830.8 347.03L833.8 347.52L836.7 348.01L839.6 348.50L842.6 348.98L845.5 349.47L848.5 349.95L851.4 350.43L854.3 350.92L857.3 351.40L860.2 351.88L863.1 352.36L866.1 352.85L869.0 353.33L872.0 353.82L874.9 354.31L877.8 354.80L880.8 355.30L883.7 355.79L886.7 356.30L889.6 356.80M971.5 371.30L974.5 371.80L977.4 372.30L980.4 372.79L983.3 373.28L986.3 373.77L989.2 374.26L992.2 374.74L995.2 375.23L998.1 375.71L1001.1 376.19L1004.0 376.66L1007.0 377.14L1009.9 377.62L1012.9 378.09L1015.9 378.57L1018.8 379.04L1021.8 379.52L1024.7 379.99L1027.7 380.47L1030.6 380.94L1033.6 381.42L1036.6 381.90L1039.5 382.38L1042.5 382.86L1045.4 383.34L1048.4 383.82L1051.3 384.31L1054.3 384.80M1135.0 398.40L1138.0 398.83L1141.0 399.25L1143.9 399.66L1146.9 400.07L1149.9 400.47L1152.9 400.86L1155.9 401.25L1158.9 401.63L1161.8 402.01L1164.8 402.38L1167.8 402.75L1170.8 403.12L1173.8 403.49L1176.8 403.85L1179.7 404.21L1182.7 404.57L1185.7 404.93L1188.7 405.29L1191.7 405.65L1194.6 406.02L1197.6 406.38L1200.6 406.74L1203.6 407.11L1206.6 407.48L1209.6 407.85L1212.5 408.23L1215.5 408.61L1218.5 409.00M1300.5 420.00L1303.4 420.30L1306.3 420.60L1309.2 420.89L1312.1 421.18L1315.0 421.47L1317.9 421.75L1320.8 422.03L1323.7 422.30L1326.6 422.58L1329.5 422.85L1332.4 423.11L1335.3 423.37L1338.2 423.63L1341.1 423.88L1344.0 424.13L1346.9 424.37L1349.8 424.61L1352.7 424.85L1355.6 425.08L1358.5 425.30L1361.4 425.52L1364.3 425.74L1367.2 425.95L1370.1 426.15L1373.0 426.35L1375.9 426.55L1378.8 426.74L1381.7 426.92L1384.6 427.10M1467.3 431.00L1470.3 431.07L1473.2 431.14L1476.2 431.21L1479.2 431.28L1482.2 431.35L1485.1 431.41L1488.1 431.48L1491.1 431.54L1494.1 431.61L1497.0 431.67L1500.0 431.73L1503.0 431.79L1506.0 431.84L1508.9 431.89L1511.9 431.95L1514.9 431.99L1517.9 432.04L1520.8 432.08L1523.8 432.12L1526.8 432.16L1529.8 432.19L1532.8 432.22L1535.7 432.24L1538.7 432.26L1541.7 432.28L1544.6 432.29L1547.6 432.30L1550.6 432.30M1633.3 432.20L1636.3 432.20L1639.3 432.21L1642.3 432.22L1645.3 432.23L1648.2 432.25L1651.2 432.27L1654.2 432.29L1657.2 432.32L1660.2 432.35L1663.2 432.38L1666.2 432.41L1669.2 432.45L1672.2 432.49L1675.2 432.53L1678.1 432.58L1681.1 432.63L1684.1 432.67L1687.1 432.72L1690.1 432.78L1693.1 432.83L1696.1 432.89L1699.1 432.94L1702.1 433.00L1705.0 433.06L1708.0 433.12L1711.0 433.18L1714.0 433.24L1717.0 433.30M1799.4 437.20L1802.4 437.39L1805.4 437.59L1808.3 437.79L1811.3 438.00L1814.3 438.22L1817.3 438.45L1820.3 438.68L1823.3 438.92L1826.2 439.16L1829.2 439.41L1832.2 439.67L1835.2 439.94L1838.2 440.21L1841.2 440.48L1844.1 440.77L1847.1 441.06L1850.1 441.35L1853.1 441.66L1856.1 441.96L1859.0 442.28L1862.0 442.60L1865.0 442.92L1868.0 443.25L1871.0 443.59L1874.0 443.94L1876.9 444.28L1879.9 444.64L1882.9 445.00M1964.4 459.20L1967.3 459.74L1970.3 460.27L1973.2 460.81L1976.2 461.34L1979.1 461.87L1982.1 462.41L1985.0 462.94L1987.9 463.48L1990.9 464.02L1993.8 464.55L1996.8 465.10L1999.7 465.64L2002.7 466.19L2005.6 466.74L2008.5 467.29L2011.5 467.85L2014.4 468.41L2017.4 468.98L2020.3 469.55L2023.3 470.13L2026.2 470.71L2029.1 471.30L2032.1 471.90L2035.0 472.50L2038.0 473.12L2040.9 473.74L2043.9 474.36L2046.8 475.00M2126.6 495.10L2129.5 495.84L2132.4 496.57L2135.4 497.31L2138.3 498.04L2141.2 498.77L2144.1 499.50L2147.1 500.23L2150.0 500.96L2152.9 501.69L2155.8 502.42L2158.7 503.15L2161.7 503.88L2164.6 504.61L2167.5 505.34L2170.4 506.07L2173.3 506.81L2176.3 507.55L2179.2 508.29L2182.1 509.03L2185.0 509.78L2187.9 510.53L2190.9 511.28L2193.8 512.04L2196.7 512.80L2199.6 513.57L2202.6 514.34L2205.5 515.12L2208.4 515.90M2287.4 538.40L2290.3 539.19L2293.2 539.98L2296.1 540.77L2299.0 541.54L2301.9 542.32L2304.8 543.09L2307.7 543.86L2310.6 544.63L2313.5 545.39L2316.4 546.15L2319.3 546.91L2322.2 547.67L2325.1 548.43L2328.0 549.18L2330.9 549.94L2333.8 550.69L2336.7 551.45L2339.6 552.21L2342.5 552.97L2345.4 553.73L2348.3 554.49L2351.2 555.25L2354.1 556.02L2357.0 556.79L2359.9 557.56L2362.8 558.34L2365.7 559.12L2368.6 559.90M2448.1 582.00L2451.0 582.75L2453.9 583.50L2456.9 584.24L2459.8 584.97L2462.7 585.70L2465.7 586.42L2468.6 587.13L2471.5 587.84L2474.4 588.55L2477.3 589.25L2480.3 589.95L2483.2 590.64L2486.1 591.34L2489.1 592.03L2492.0 592.72L2494.9 593.41L2497.8 594.11L2500.8 594.80L2503.7 595.49L2506.6 596.19L2509.5 596.89L2512.4 597.59L2515.4 598.30L2518.3 599.01L2521.2 599.72L2524.2 600.44L2527.1 601.17L2530.0 601.90M2609.8 622.70L2612.7 623.40L2615.7 624.08L2618.6 624.76L2621.5 625.43L2624.4 626.09L2627.4 626.75L2630.3 627.40L2633.2 628.05L2636.2 628.69L2639.1 629.32L2642.0 629.96L2644.9 630.59L2647.9 631.21L2650.8 631.84L2653.7 632.47L2656.7 633.09L2659.6 633.72L2662.5 634.34L2665.4 634.97L2668.4 635.60L2671.3 636.24L2674.2 636.87L2677.2 637.51L2680.1 638.16L2683.0 638.81L2685.9 639.47L2688.9 640.13L2691.8 640.80M2772.0 660.10L2774.9 660.78L2777.8 661.46L2780.8 662.13L2783.7 662.80L2786.6 663.46L2789.5 664.12L2792.4 664.78L2795.4 665.43L2798.3 666.09L2801.2 666.74L2804.1 667.39L2807.1 668.04L2810.0 668.69L2812.9 669.34L2815.8 669.99L2818.7 670.65L2821.7 671.30L2824.6 671.96L2827.5 672.62L2830.4 673.29L2833.4 673.96L2836.3 674.63L2839.2 675.31L2842.1 675.99L2845.0 676.69L2848.0 677.38L2850.9 678.09L2853.8 678.80M2933.3 699.80L2936.2 700.56L2939.2 701.32L2942.1 702.07L2945.1 702.82L2948.0 703.57L2951.0 704.31L2953.9 705.05L2956.8 705.79L2959.8 706.52L2962.7 707.26L2965.7 707.99L2968.6 708.73L2971.6 709.46L2974.5 710.20L2977.4 710.94L2980.4 711.68L2983.3 712.42L2986.3 713.17L2989.2 713.92L2992.2 714.67L2995.1 715.43L2998.0 716.19L3001.0 716.96L3003.9 717.73L3006.9 718.51L3009.8 719.30L3012.8 720.10L3015.7 720.90M3094.2 744.10L3097.1 744.97L3100.1 745.83L3103.0 746.69L3105.9 747.54L3108.8 748.39L3111.8 749.25L3114.7 750.11L3117.6 750.98L3120.5 751.86L3123.5 752.76L3126.4 753.67L3129.3 754.60L3132.2 755.55L3135.2 756.52L3138.1 757.51L3141.0 758.52L3143.9 759.55L3146.9 760.59L3149.8 761.65L3152.7 762.73L3155.6 763.81L3158.6 764.91L3161.5 766.03L3164.4 767.15L3167.3 768.29L3170.3 769.44L3173.2 770.60M3249.3 804.20L3252.2 805.62L3255.2 807.05L3258.1 808.49L3261.1 809.94L3264.0 811.41L3267.0 812.88L3269.9 814.37L3272.9 815.87L3275.8 817.38L3278.7 818.89L3281.7 820.42L3284.6 821.96L3287.6 823.51L3290.5 825.06L3293.5 826.63L3296.4 828.20L3299.3 829.79L3302.3 831.38L3305.2 832.97L3308.2 834.58L3311.1 836.19L3314.1 837.81L3317.0 839.43L3320.0 841.06L3322.9 842.70M3394.8 885.50L3397.7 887.03L3400.5 888.53L3403.4 890.02L3406.2 891.49L3409.1 892.94L3412.0 894.38L3414.8 895.80L3417.7 897.20L3420.6 898.59L3423.4 899.96L3426.3 901.32L3429.1 902.67L3432.0 904.00" stroke="#1D4890"/></g></g><path d="M356.5 84.5H3433M356.5 1942.5H3433M356.5 83V1944M3432.5 83V1944" stroke="#000" stroke-width="3" fill="none"/><g font-family='"Liberation Sans", sans-serif' fill="#0A0706" stroke="#0A0706" stroke-width="1.7" stroke-linejoin="miter"><text transform="translate(147.62,476.00) scale(0.9794,1)" font-size="79.8">0</text><text transform="translate(188.83,476.00) scale(0.9621,1)" font-size="79.8">.</text><text transform="translate(208.04,476.00) scale(1.0287,1)" font-size="79.8">8</text><text transform="translate(150.73,850.20) scale(0.9505,1)" font-size="79.8">0</text><text transform="translate(190.89,850.20) scale(0.9621,1)" font-size="79.8">.</text><text transform="translate(209.72,850.20) scale(0.9885,1)" font-size="79.8">6</text><text transform="translate(150.62,1223.90) scale(0.9846,1)" font-size="79.8">0</text><text transform="translate(191.86,1223.90) scale(0.9621,1)" font-size="79.8">.</text><text transform="translate(212.03,1223.90) scale(0.9291,1)" font-size="79.8">4</text><text transform="translate(150.62,1598.90) scale(0.9846,1)" font-size="79.8">0</text><text transform="translate(192.79,1598.90) scale(0.8344,1)" font-size="79.8">.</text><text transform="translate(210.93,1598.90) scale(0.9710,1)" font-size="79.8">2</text><text transform="translate(210.66,1973.30) scale(0.9595,1)" font-size="79.8">0</text><text transform="translate(333.57,2086.20) scale(0.9568,1)" font-size="79.8">0</text><text transform="translate(1043.70,2086.20) scale(0.9407,1)" font-size="79.8">5</text><text transform="translate(1767.89,2086.20) scale(0.9490,1)" font-size="79.8">0</text><text transform="translate(2476.79,2086.20) scale(0.9568,1)" font-size="79.8">5</text><text transform="translate(3154.16,2086.20) scale(0.9424,1)" font-size="73.6">2</text><text transform="translate(3194.17,2086.20) scale(0.9664,1)" font-size="73.6">0</text><text transform="translate(54.30,1216.79) rotate(-90) scale(0.9767,1)" font-size="75.5">C</text><text transform="translate(54.30,1165.79) rotate(-90) scale(1.0187,1)" font-size="75.5">O</text><text transform="translate(54.30,1106.26) rotate(-90) scale(1.0030,1)" font-size="75.5">N</text><text transform="translate(54.30,1050.83) rotate(-90) scale(0.9885,1)" font-size="75.5">T</text><text transform="translate(54.30,1003.73) rotate(-90) scale(0.9168,1)" font-size="75.5">R</text><text transform="translate(54.30,953.09) rotate(-90) scale(0.9588,1)" font-size="75.5">A</text><text transform="translate(54.30,904.07) rotate(-90) scale(0.9686,1)" font-size="75.5">S</text><text transform="translate(54.30,855.53) rotate(-90) scale(0.9885,1)" font-size="75.5">T</text><text transform="translate(1549.43,2238.85) scale(1.0305,1)" font-size="77.0">I</text><text transform="translate(1571.21,2238.85) scale(1.0348,1)" font-size="77.0">M</text><text transform="translate(1639.71,2238.85) scale(0.9401,1)" font-size="77.0">A</text><text transform="translate(1688.10,2238.85) scale(0.9429,1)" font-size="77.0">G</text><text transform="translate(1745.49,2238.85) scale(0.8482,1)" font-size="77.0">E</text><text transform="translate(1807.51,2238.85) scale(0.9881,1)" font-size="77.0">H</text><text transform="translate(1863.62,2238.85) scale(0.8434,1)" font-size="77.0">E</text><text transform="translate(1907.13,2238.85) scale(1.0583,1)" font-size="77.0">I</text><text transform="translate(1929.11,2238.85) scale(0.9410,1)" font-size="77.0">G</text><text transform="translate(1985.51,2238.85) scale(0.9881,1)" font-size="77.0">H</text><text transform="translate(2040.96,2238.85) scale(0.9762,1)" font-size="77.0">T</text><text transform="translate(2119.97,2238.85) scale(1.0507,1)" font-size="67.1">m</text><text transform="translate(2178.73,2238.85) scale(1.0592,1)" font-size="67.1">m</text><text transform="translate(3236.09,50.05) scale(0.8841,1)" font-size="73.0">3</text><text transform="translate(3276.14,50.05) scale(0.8581,1)" font-size="73.0">5</text><text transform="translate(3314.19,50.05) scale(1.0465,1)" font-size="67.1">m</text><text transform="translate(3373.17,50.05) scale(1.0507,1)" font-size="67.1">m</text></g><path d="M238.23 47.06H244.03V101.85H236.03V60.86H226.05V55.06C231.05 55.06 237.03 52.06 238.23 47.06ZM1752.10 2030.80H1758.00V2086.70H1749.90V2045.90H1740.00V2040.00C1745.00 2040.00 1750.90 2035.80 1752.10 2030.80ZM2463.20 2030.80H2469.10V2086.70H2461.00V2045.90H2450.00V2040.00C2455.00 2040.00 2462.00 2035.80 2463.20 2030.80Z" fill="#0A0706"/></svg></body></html>
